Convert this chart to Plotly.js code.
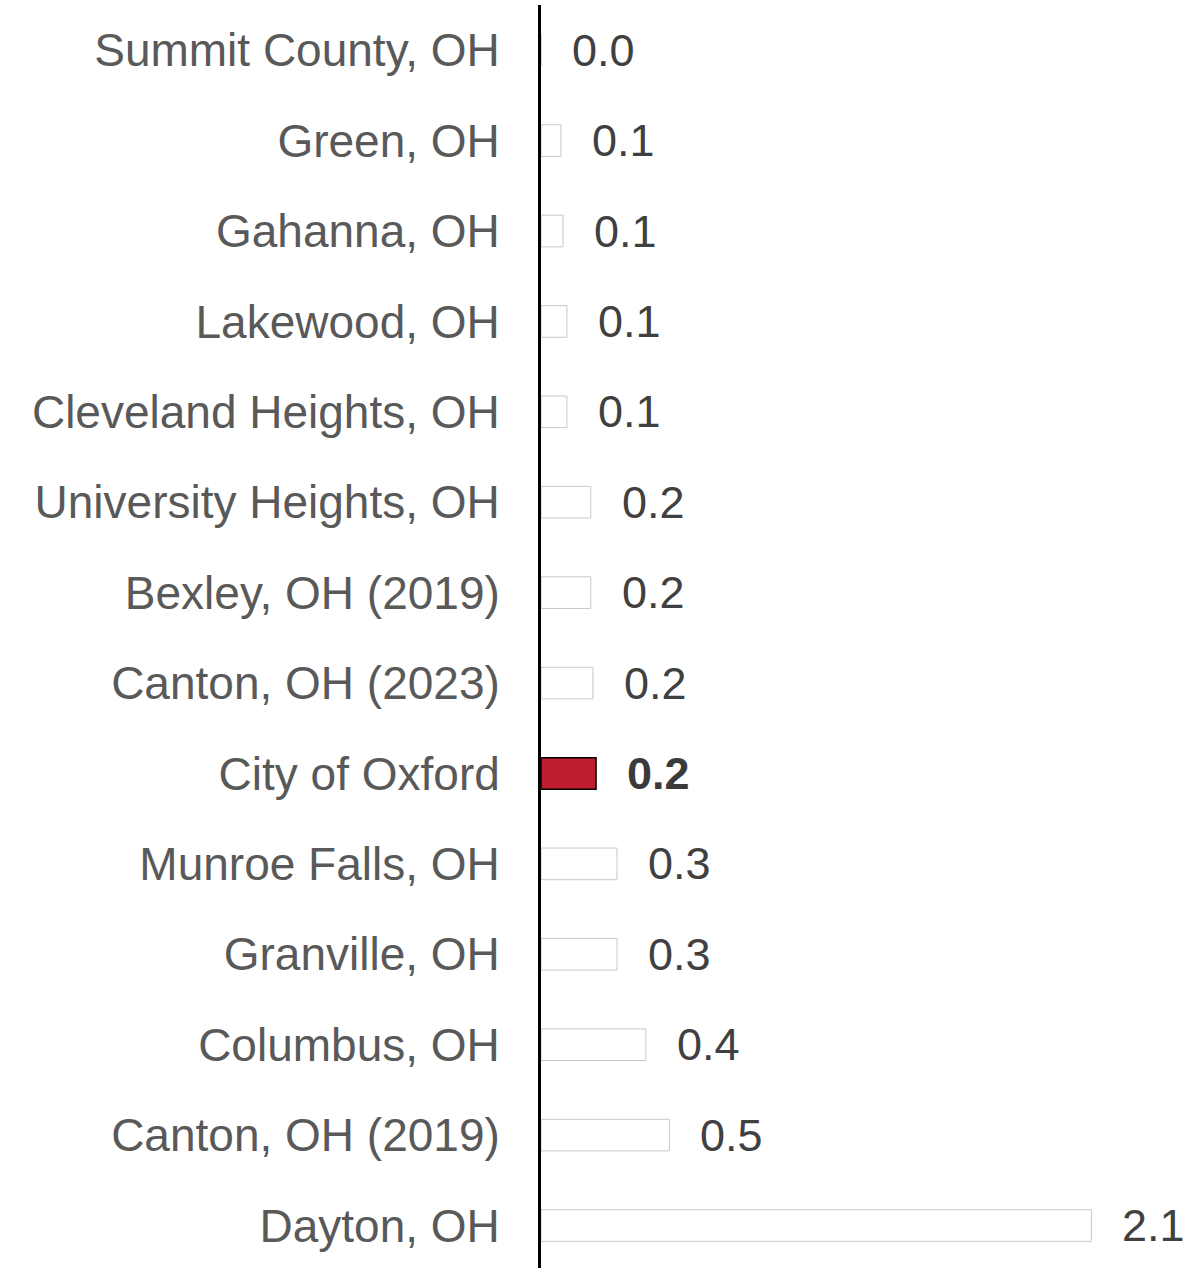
<!DOCTYPE html>
<html>
<head>
<meta charset="utf-8">
<script src="https://cdn.plot.ly/plotly-3.0.1.min.js"></script>
<style>html,body{margin:0;padding:0;background:#fff;}#chart{width:1191px;height:1268px;}</style>
</head>
<body>
<div id="chart"></div>
<script>
const categories = [
  "Summit County, OH", "Green, OH", "Gahanna, OH", "Lakewood, OH",
  "Cleveland Heights, OH", "University Heights, OH", "Bexley, OH (2019)",
  "Canton, OH (2023)", "City of Oxford", "Munroe Falls, OH", "Granville, OH",
  "Columbus, OH", "Canton, OH (2019)", "Dayton, OH"
];
const values = [0.0, 0.076, 0.084, 0.099, 0.099, 0.19, 0.19, 0.198, 0.21, 0.29, 0.29, 0.40, 0.49, 2.1];
const highlight = "City of Oxford";

const fillColors = categories.map(c => c === highlight ? "#be1e2d" : "#ffffff");
const lineColors = categories.map(c => c === highlight ? "#000000" : "#c8c8c8");
const lineWidths = categories.map(c => c === highlight ? 1.5 : 1);

const trace = {
  type: "bar",
  orientation: "h",
  y: categories,
  x: values,
  width: 0.35,
  marker: { color: fillColors, line: { color: lineColors, width: lineWidths } },
  hoverinfo: "x+y"
};

const annotations = categories.map((c, i) => ({
  x: values[i],
  y: c,
  xref: "x",
  yref: "y",
  text: c === highlight ? "<b>" + values[i].toFixed(1) + "</b>" : values[i].toFixed(1),
  showarrow: false,
  xanchor: "left",
  yanchor: "middle",
  xshift: 29,
  font: { family: "Liberation Sans, Arial, sans-serif", size: 45, color: c === highlight ? "#3a3a3a" : "#404040" }
}));

const layout = {
  width: 1191,
  height: 1268,
  margin: { l: 541, r: 0, t: 5, b: 0, pad: 0 },
  paper_bgcolor: "#ffffff",
  plot_bgcolor: "#ffffff",
  showlegend: false,
  xaxis: {
    range: [0, 2.48],
    showgrid: false,
    zeroline: false,
    showticklabels: false,
    showline: false,
    ticks: ""
  },
  yaxis: {
    type: "category",
    range: [13.47, -0.5],
    showgrid: false,
    zeroline: false,
    showline: true,
    linecolor: "#000000",
    linewidth: 3,
    ticks: "",
    ticklabelstandoff: 29,
    tickfont: { family: "Liberation Sans, Arial, sans-serif", size: 46, color: "#595959" }
  },
  annotations: annotations
};

Plotly.newPlot("chart", [trace], layout, { displayModeBar: false, staticPlot: true });
</script>
</body>
</html>
